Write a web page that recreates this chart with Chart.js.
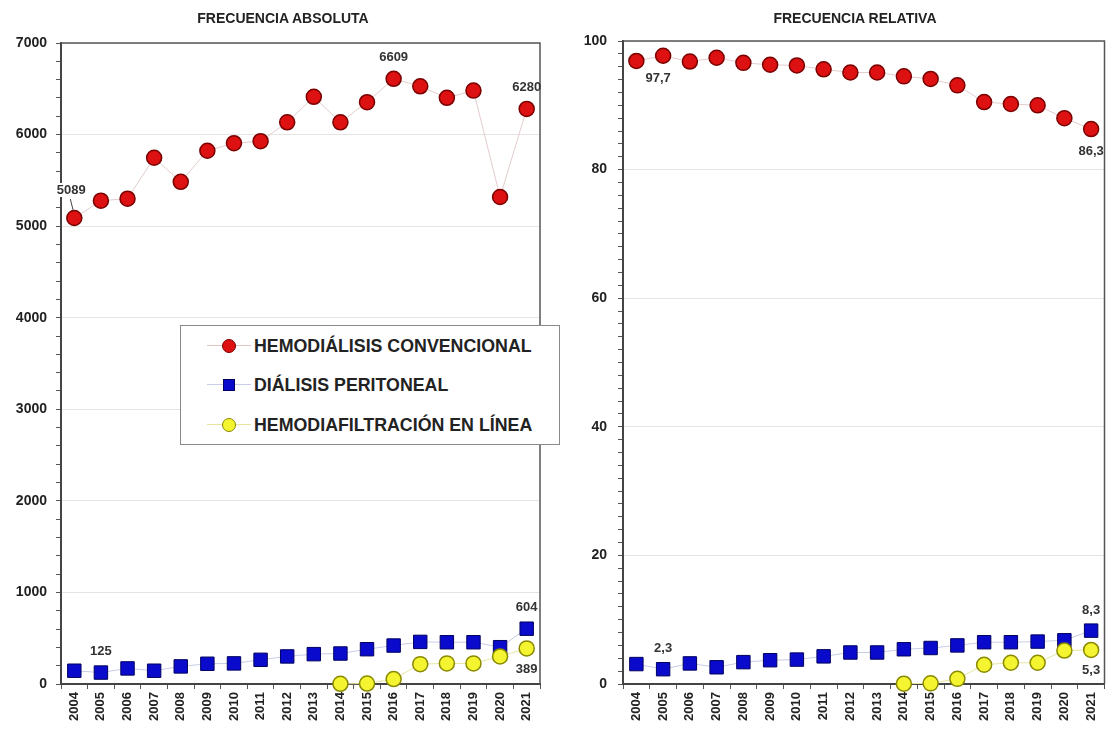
<!DOCTYPE html>
<html>
<head>
<meta charset="utf-8">
<script src="https://cdn.jsdelivr.net/npm/chart.js@4/dist/chart.umd.min.js"></script>
<style>
  body { margin: 0; background: #fff; font-family: "Liberation Sans", Arial, sans-serif; }
  #wrap { position: relative; width: 1115px; height: 733px; }
  #absChart { position: absolute; left: 0; top: 0; }
  #relChart { position: absolute; left: 560px; top: 0; }
  .title { position: absolute; top: 9px; width: 300px; text-align: center; font-weight: bold; font-size: 14px; color: #222; line-height: 18px; }
  #legend {
    position: absolute; left: 180px; top: 325px; width: 378px; height: 118px;
    border: 1.5px solid #8a8a8a; background: #fff;
  }
  .row { position: absolute; left: 0; height: 20px; }
  .row .ln { position: absolute; left: 26px; top: 9px; width: 44px; height: 1px; }
  .row .mk { position: absolute; box-sizing: border-box; }
  .row .tx { position: absolute; left: 73px; top: 0; font-weight: bold; font-size: 17.8px; color: #222; white-space: nowrap; line-height: 20px; }
</style>
</head>
<body>
<div id="wrap">
  <canvas id="absChart" width="560" height="733"></canvas>
  <canvas id="relChart" width="555" height="733"></canvas>
  <div class="title" style="left:133px">FRECUENCIA ABSOLUTA</div>
  <div class="title" style="left:705px">FRECUENCIA RELATIVA</div>
  <div id="legend">
    <div class="row" style="top:10px">
      <div class="ln" style="background:#e0c8c8"></div>
      <div class="mk" style="left:41px;top:3px;width:14px;height:14px;border-radius:50%;background:#dd1111;border:1.5px solid #7a0000"></div>
      <div class="tx">HEMODIÁLISIS CONVENCIONAL</div>
    </div>
    <div class="row" style="top:49px">
      <div class="ln" style="background:#c8cce8"></div>
      <div class="mk" style="left:42px;top:4px;width:12px;height:12px;background:#0a0acc;border:1px solid #000060"></div>
      <div class="tx">DIÁLISIS PERITONEAL</div>
    </div>
    <div class="row" style="top:89px">
      <div class="ln" style="background:#e6e6a0"></div>
      <div class="mk" style="left:41px;top:3px;width:14px;height:14px;border-radius:50%;background:#f4f430;border:1.5px solid #8a8a00"></div>
      <div class="tx">HEMODIAFILTRACIÓN EN LÍNEA</div>
    </div>
  </div>
</div>

<script>
const years = ['2004', '2005', '2006', '2007', '2008', '2009', '2010', '2011', '2012',
               '2013', '2014', '2015', '2016', '2017', '2018', '2019', '2020', '2021'];

// frecuencia absoluta
const hdAbs  = [5089, 5278, 5300, 5747, 5484, 5823, 5906, 5928, 6134, 6412, 6134, 6354, 6609, 6527, 6401, 6480, 5318, 6280];
const dpAbs  = [145, 125, 170, 145, 192, 221, 225, 264, 301, 326, 333, 380, 420, 460, 456, 456, 402, 604];
const hdfAbs = [null, null, null, null, null, null, null, null, null, null, 2, 5, 54, 217, 225, 225, 301, 389];

// frecuencia relativa (%)
const hdRel  = [96.9, 97.7, 96.8, 97.4, 96.6, 96.3, 96.2, 95.6, 95.1, 95.1, 94.5, 94.1, 93.1, 90.5, 90.2, 90.0, 88.0, 86.3];
const dpRel  = [3.1, 2.3, 3.2, 2.6, 3.4, 3.7, 3.8, 4.3, 4.9, 4.9, 5.4, 5.6, 6.0, 6.5, 6.5, 6.6, 6.8, 8.3];
const hdfRel = [null, null, null, null, null, null, null, null, null, null, 0.05, 0.1, 0.8, 3.0, 3.3, 3.3, 5.2, 5.3];

// etiquetas de valores: [serie, índice, texto, dx, dy]
const absLabels = [[0, 0, '5089', -3, -28], [0, 12, '6609', 0, -21], [0, 17, '6280', 0, -22],
                   [1, 1, '125', 0, -21], [1, 17, '604', 0, -21], [2, 17, '389', 0, 21]];
const relLabels = [[0, 1, '97,7', -5, 23], [0, 17, '86,3', 0, 22],
                   [1, 1, '2,3', 0, -21], [1, 17, '8,3', 0, -20], [2, 17, '5,3', 0, 21]];

const FONT = '"Liberation Sans", Arial, sans-serif';

// marco del área de trazado + etiquetas
const framePlugin = {
    id: 'frame',
    beforeDatasetsDraw(chart) {
        const a = chart.chartArea, ctx = chart.ctx;
        ctx.save();
        ctx.strokeStyle = '#555';
        ctx.lineWidth = 1.5;
        ctx.beginPath();
        ctx.moveTo(a.left, a.top);
        ctx.lineTo(a.right, a.top);
        ctx.lineTo(a.right, a.bottom);
        ctx.stroke();
        ctx.restore();
    },
    afterDatasetsDraw(chart, args, opts) {
        const ctx = chart.ctx;
        ctx.save();
        ctx.font = 'bold 13px ' + FONT;
        ctx.textAlign = 'center';
        ctx.textBaseline = 'middle';
        (opts.items || []).forEach(function (it) {
            const pt = chart.getDatasetMeta(it[0]).data[it[1]];
            const x = pt.x + it[3], y = pt.y + it[4];
            if (it[4] < -25) {
                // línea guía
                ctx.fillStyle = '#fff';
                const w = ctx.measureText(it[2]).width;
                ctx.fillRect(x - w / 2 - 1, y - 7, w + 2, 14);
                ctx.strokeStyle = '#444';
                ctx.lineWidth = 1;
                ctx.beginPath();
                ctx.moveTo(x - 1, y + 9);
                ctx.lineTo(pt.x - 1, pt.y - 7);
                ctx.stroke();
            }
            ctx.fillStyle = '#333';
            ctx.fillText(it[2], x, y);
        });
        ctx.restore();
    }
};

function makeDatasets(hd, dp, hdf) {
    return [{
        label: 'HEMODIÁLISIS CONVENCIONAL',
        data: hd,
        order: 2,
        clip: false,
        borderColor: '#e4cccc',
        borderWidth: 1,
        pointStyle: 'circle',
        pointRadius: 7.5,
        pointBackgroundColor: '#dd1111',
        pointBorderColor: '#7a0000',
        pointBorderWidth: 1.5
    }, {
        label: 'DIÁLISIS PERITONEAL',
        data: dp,
        order: 1,
        clip: false,
        borderColor: '#c8cce8',
        borderWidth: 1,
        pointStyle: 'rect',
        pointRadius: 9.5,
        pointBackgroundColor: '#0a0acc',
        pointBorderColor: '#000060',
        pointBorderWidth: 1
    }, {
        label: 'HEMODIAFILTRACIÓN EN LÍNEA',
        data: hdf,
        order: 0,
        clip: false,
        borderColor: '#e6e6a0',
        borderWidth: 1,
        pointStyle: 'circle',
        pointRadius: 7.5,
        pointBackgroundColor: '#f4f430',
        pointBorderColor: '#8a8a00',
        pointBorderWidth: 1.5
    }];
}

function makeConfig(o) {
    return {
        type: 'line',
        data: { labels: years, datasets: makeDatasets(o.hd, o.dp, o.hdf) },
        plugins: [framePlugin],
        options: {
            responsive: false,
            animation: false,
            layout: { padding: { left: 0, right: o.padR, top: o.padT, bottom: 0 } },
            plugins: {
                legend: { display: false },
                tooltip: { enabled: false },
                frame: { items: o.labels }
            },
            scales: {
                x: {
                    type: 'category',
                    offset: true,
                    grid: { offset: true, drawOnChartArea: false, tickLength: 5, tickColor: '#555' },
                    border: { color: '#444', width: 2 },
                    ticks: {
                        autoSkip: false, minRotation: 90, maxRotation: 90, padding: 3,
                        color: '#222', font: { family: FONT, size: 13, weight: 'bold' }
                    },
                    afterFit: function (s) { s.height = 49; }
                },
                y: {
                    min: 0,
                    max: o.max,
                    grid: {
                        tickLength: 5,
                        tickColor: '#555',
                        color: function (c) { return c.tick && c.tick.value % o.major === 0 ? '#e4e4e4' : 'rgba(0,0,0,0)'; }
                    },
                    border: { color: '#444', width: 2 },
                    ticks: {
                        stepSize: o.minor,
                        autoSkip: false,
                        padding: o.tickPad,
                        color: '#222',
                        font: { family: FONT, size: 14, weight: 'bold' },
                        callback: function (v) { return v % o.major === 0 ? String(v) : ''; }
                    },
                    afterFit: function (s) { s.width = o.yWidth; }
                }
            }
        }
    };
}

new Chart(document.getElementById('absChart'), makeConfig({
    hd: hdAbs, dp: dpAbs, hdf: hdfAbs, labels: absLabels,
    max: 7000, major: 1000, minor: 200, padR: 20, padT: 43, yWidth: 61, tickPad: 9
}));

new Chart(document.getElementById('relChart'), makeConfig({
    hd: hdRel, dp: dpRel, hdf: hdfRel, labels: relLabels,
    max: 100, major: 20, minor: 2, padR: 8, padT: 41, yWidth: 63, tickPad: 11
}));
</script>
</body>
</html>
